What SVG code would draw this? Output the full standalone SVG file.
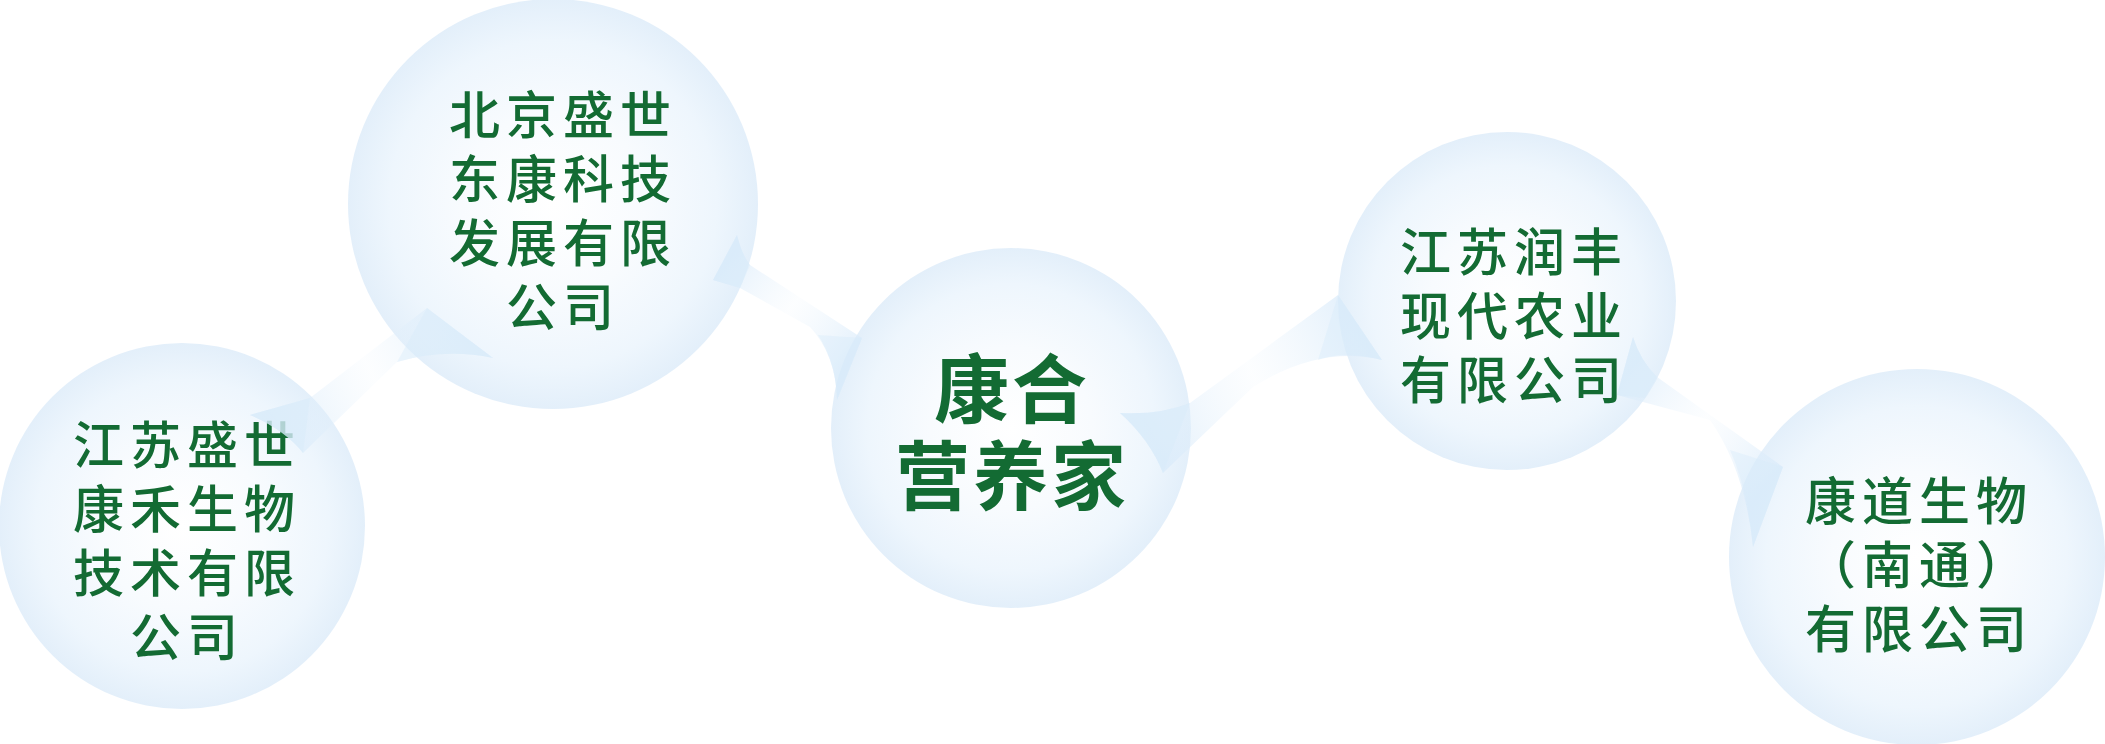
<svg xmlns="http://www.w3.org/2000/svg" width="2105" height="744" viewBox="0 0 2105 744">
<defs>
<radialGradient id="bub" cx="0.5" cy="0.5" r="0.5">
<stop offset="0" stop-color="#ffffff"/>
<stop offset="0.45" stop-color="#f8fbfe"/>
<stop offset="0.8" stop-color="#eef6fd"/>
<stop offset="1" stop-color="#e3effa"/>
</radialGradient>
<linearGradient id="gAB" gradientUnits="userSpaceOnUse" x1="280" y1="430" x2="470" y2="330">
<stop offset="0" stop-color="#d8eafa" stop-opacity="0.7"/>
<stop offset="0.5" stop-color="#e8f3fc" stop-opacity="0.12"/>
<stop offset="1" stop-color="#d8eafa" stop-opacity="0.7"/>
</linearGradient>
<linearGradient id="gBC" gradientUnits="userSpaceOnUse" x1="725" y1="265" x2="850" y2="360">
<stop offset="0" stop-color="#d8eafa" stop-opacity="0.7"/>
<stop offset="0.5" stop-color="#e8f3fc" stop-opacity="0.12"/>
<stop offset="1" stop-color="#d8eafa" stop-opacity="0.7"/>
</linearGradient>
<linearGradient id="gCD" gradientUnits="userSpaceOnUse" x1="1150" y1="430" x2="1360" y2="330">
<stop offset="0" stop-color="#d8eafa" stop-opacity="0.7"/>
<stop offset="0.5" stop-color="#e8f3fc" stop-opacity="0.12"/>
<stop offset="1" stop-color="#d8eafa" stop-opacity="0.7"/>
</linearGradient>
<linearGradient id="gDE" gradientUnits="userSpaceOnUse" x1="1630" y1="370" x2="1770" y2="480">
<stop offset="0" stop-color="#d8eafa" stop-opacity="0.7"/>
<stop offset="0.5" stop-color="#e8f3fc" stop-opacity="0.12"/>
<stop offset="1" stop-color="#d8eafa" stop-opacity="0.7"/>
</linearGradient>
</defs>
<style>
.bubble{fill:url(#bub);}
.fold{fill:#d6eafa;fill-opacity:0.4;}
.lbl{font-family:"Liberation Sans","Noto Sans CJK SC",sans-serif;fill:#136b33;font-size:51px;font-weight:500;letter-spacing:6px;text-anchor:middle;}
.main{font-family:"Liberation Sans","Noto Sans CJK SC",sans-serif;fill:#136b33;font-size:75px;font-weight:bold;letter-spacing:3px;text-anchor:middle;}
</style>
<rect width="2105" height="744" fill="#ffffff"/>
<g id="node-a">
<circle class="bubble" cx="182" cy="526" r="183"/>
<text class="lbl"><tspan x="187" y="464">江苏盛世</tspan><tspan x="187" y="528">康禾生物</tspan><tspan x="187" y="592">技术有限</tspan><tspan x="187" y="656">公司</tspan></text>
</g>
<g id="node-b">
<circle class="bubble" cx="553" cy="204" r="205"/>
<text class="lbl"><tspan x="563" y="134">北京盛世</tspan><tspan x="563" y="198">东康科技</tspan><tspan x="563" y="262">发展有限</tspan><tspan x="563" y="326">公司</tspan></text>
</g>
<g id="node-c">
<circle class="bubble" cx="1011" cy="428" r="180"/>
<text class="main"><tspan x="1012" y="417">康合</tspan><tspan x="1012" y="504">营养家</tspan></text>
</g>
<g id="node-d">
<circle class="bubble" cx="1507" cy="301" r="169"/>
<text class="lbl"><tspan x="1514" y="271">江苏润丰</tspan><tspan x="1514" y="335">现代农业</tspan><tspan x="1514" y="399">有限公司</tspan></text>
</g>
<g id="node-e">
<circle class="bubble" cx="1917" cy="557" r="188"/>
<text class="lbl"><tspan x="1919" y="520">康道生物</tspan><tspan x="1919" y="584">（南通）</tspan><tspan x="1919" y="648">有限公司</tspan></text>
</g>
<g id="connectors">
<path fill="url(#gAB)" d="M250,415 Q285,405 310,398 L427,308 L493,358 Q445,348 397,362 L303,453 Q285,430 250,415 Z"/>
<path class="fold" d="M427,308 L493,358 Q445,348 397,362 Z"/>
<path class="fold" d="M250,415 Q285,405 310,398 L303,453 Q285,430 250,415 Z"/>
<path fill="url(#gBC)" d="M737,235 Q742,255 750,265 L862,338 L837,400 Q836,355 810,327 L740,288 L713,280 Z"/>
<path class="fold" d="M737,235 Q742,255 750,265 L740,288 L713,280 Z"/>
<path class="fold" d="M862,338 L837,400 Q836,362 818,335 Z"/>
<path fill="url(#gCD)" d="M1120,413 Q1160,415 1190,403 L1338,295 L1382,360 Q1320,345 1253,387 L1163,473 Q1150,440 1120,413 Z"/>
<path class="fold" d="M1120,413 Q1160,415 1190,403 L1163,473 Q1150,440 1120,413 Z"/>
<path class="fold" d="M1338,295 L1382,360 Q1345,350 1318,360 Z"/>
<path fill="url(#gDE)" d="M1633,337 Q1640,360 1657,377 L1783,467 L1753,547 Q1745,470 1710,420 L1617,395 Z"/>
<path class="fold" d="M1633,337 Q1640,360 1657,377 L1645,398 L1617,395 Z"/>
<path class="fold" d="M1783,467 L1753,547 Q1748,490 1730,450 Z"/>
</g>
</svg>
